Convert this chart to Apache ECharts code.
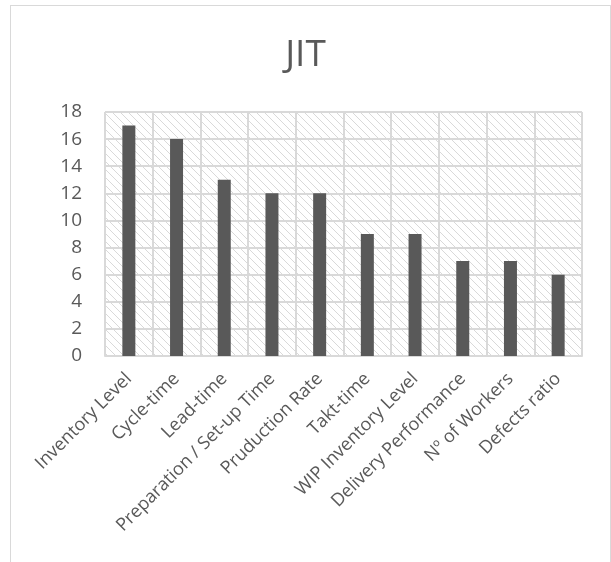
<!DOCTYPE html>
<html>
<head>
<meta charset="utf-8">
<script src="https://cdn.jsdelivr.net/npm/echarts@6/dist/echarts.min.js"></script>
<style>
  html, body { margin: 0; padding: 0; background: #fff; }
  #frame {
    position: absolute; left: 10px; top: 5px;
    width: 599px; height: 600px;
    border: 1px solid #d9d9d9;
  }
  #chart { position: absolute; left: 0; top: 0; width: 611px; height: 562px; }
</style>
</head>
<body>
<div id="frame"></div>
<div id="chart"></div>
<script>
// Chart data
const categories = [
  'Inventory Level', 'Cycle-time', 'Lead-time', 'Preparation / Set-up Time',
  'Pruduction Rate', 'Takt-time', 'WIP Inventory Level', 'Delivery Performance',
  'Nº of Workers', 'Defects ratio'
];
const values = [17, 16, 13, 12, 12, 9, 9, 7, 7, 6];
const yMax = 18;
const yStep = 2;

// Diagonal hatch fill for the plot area
function makeHatch() {
  const size = 8;
  const c = document.createElement('canvas');
  c.width = size;
  c.height = size;
  const ctx = c.getContext('2d');
  ctx.fillStyle = '#ffffff';
  ctx.fillRect(0, 0, size, size);
  ctx.strokeStyle = '#d9d9d9';
  ctx.lineWidth = 1;
  ctx.beginPath();
  ctx.moveTo(0, 0);
  ctx.lineTo(size, size);
  ctx.moveTo(-size, 0);
  ctx.lineTo(size, size * 2);
  ctx.moveTo(0, -size);
  ctx.lineTo(size * 2, size);
  ctx.stroke();
  return c;
}

const chart = echarts.init(document.getElementById('chart'));
const font = "'Open Sans', 'Noto Sans', sans-serif";

chart.setOption({
  animation: false,
  textStyle: { fontFamily: font },
  title: {
    text: 'JIT',
    left: 'center',
    top: 32,
    textStyle: {
      fontFamily: font,
      fontSize: 37,
      fontWeight: 'normal',
      color: '#595959',
    },
  },
  grid: {
    left: 105,
    right: 29,
    top: 112,
    bottom: 206,
    show: true,
    borderWidth: 0,
    backgroundColor: { image: makeHatch(), repeat: 'repeat' },
  },
  xAxis: {
    type: 'category',
    data: categories,
    axisTick: { show: false },
    axisLine: { show: true, lineStyle: { color: '#d9d9d9', width: 2 } },
    splitLine: { show: true, interval: 0, lineStyle: { color: '#d9d9d9', width: 2 } },
    axisLabel: {
      interval: 0,
      rotate: 45,
      margin: 20,
      fontSize: 18,
      color: '#595959',
      fontFamily: font,
    },
  },
  yAxis: {
    type: 'value',
    min: 0,
    max: yMax,
    interval: yStep,
    axisLine: { show: false },
    axisTick: { show: false },
    splitLine: { lineStyle: { color: '#d9d9d9', width: 2 } },
    axisLabel: {
      margin: 23,
      fontSize: 19,
      color: '#595959',
      fontFamily: font,
    },
  },
  series: [{
    type: 'bar',
    data: values,
    barWidth: 13,
    itemStyle: { color: '#595959' },
  }],
});
</script>
</body>
</html>
